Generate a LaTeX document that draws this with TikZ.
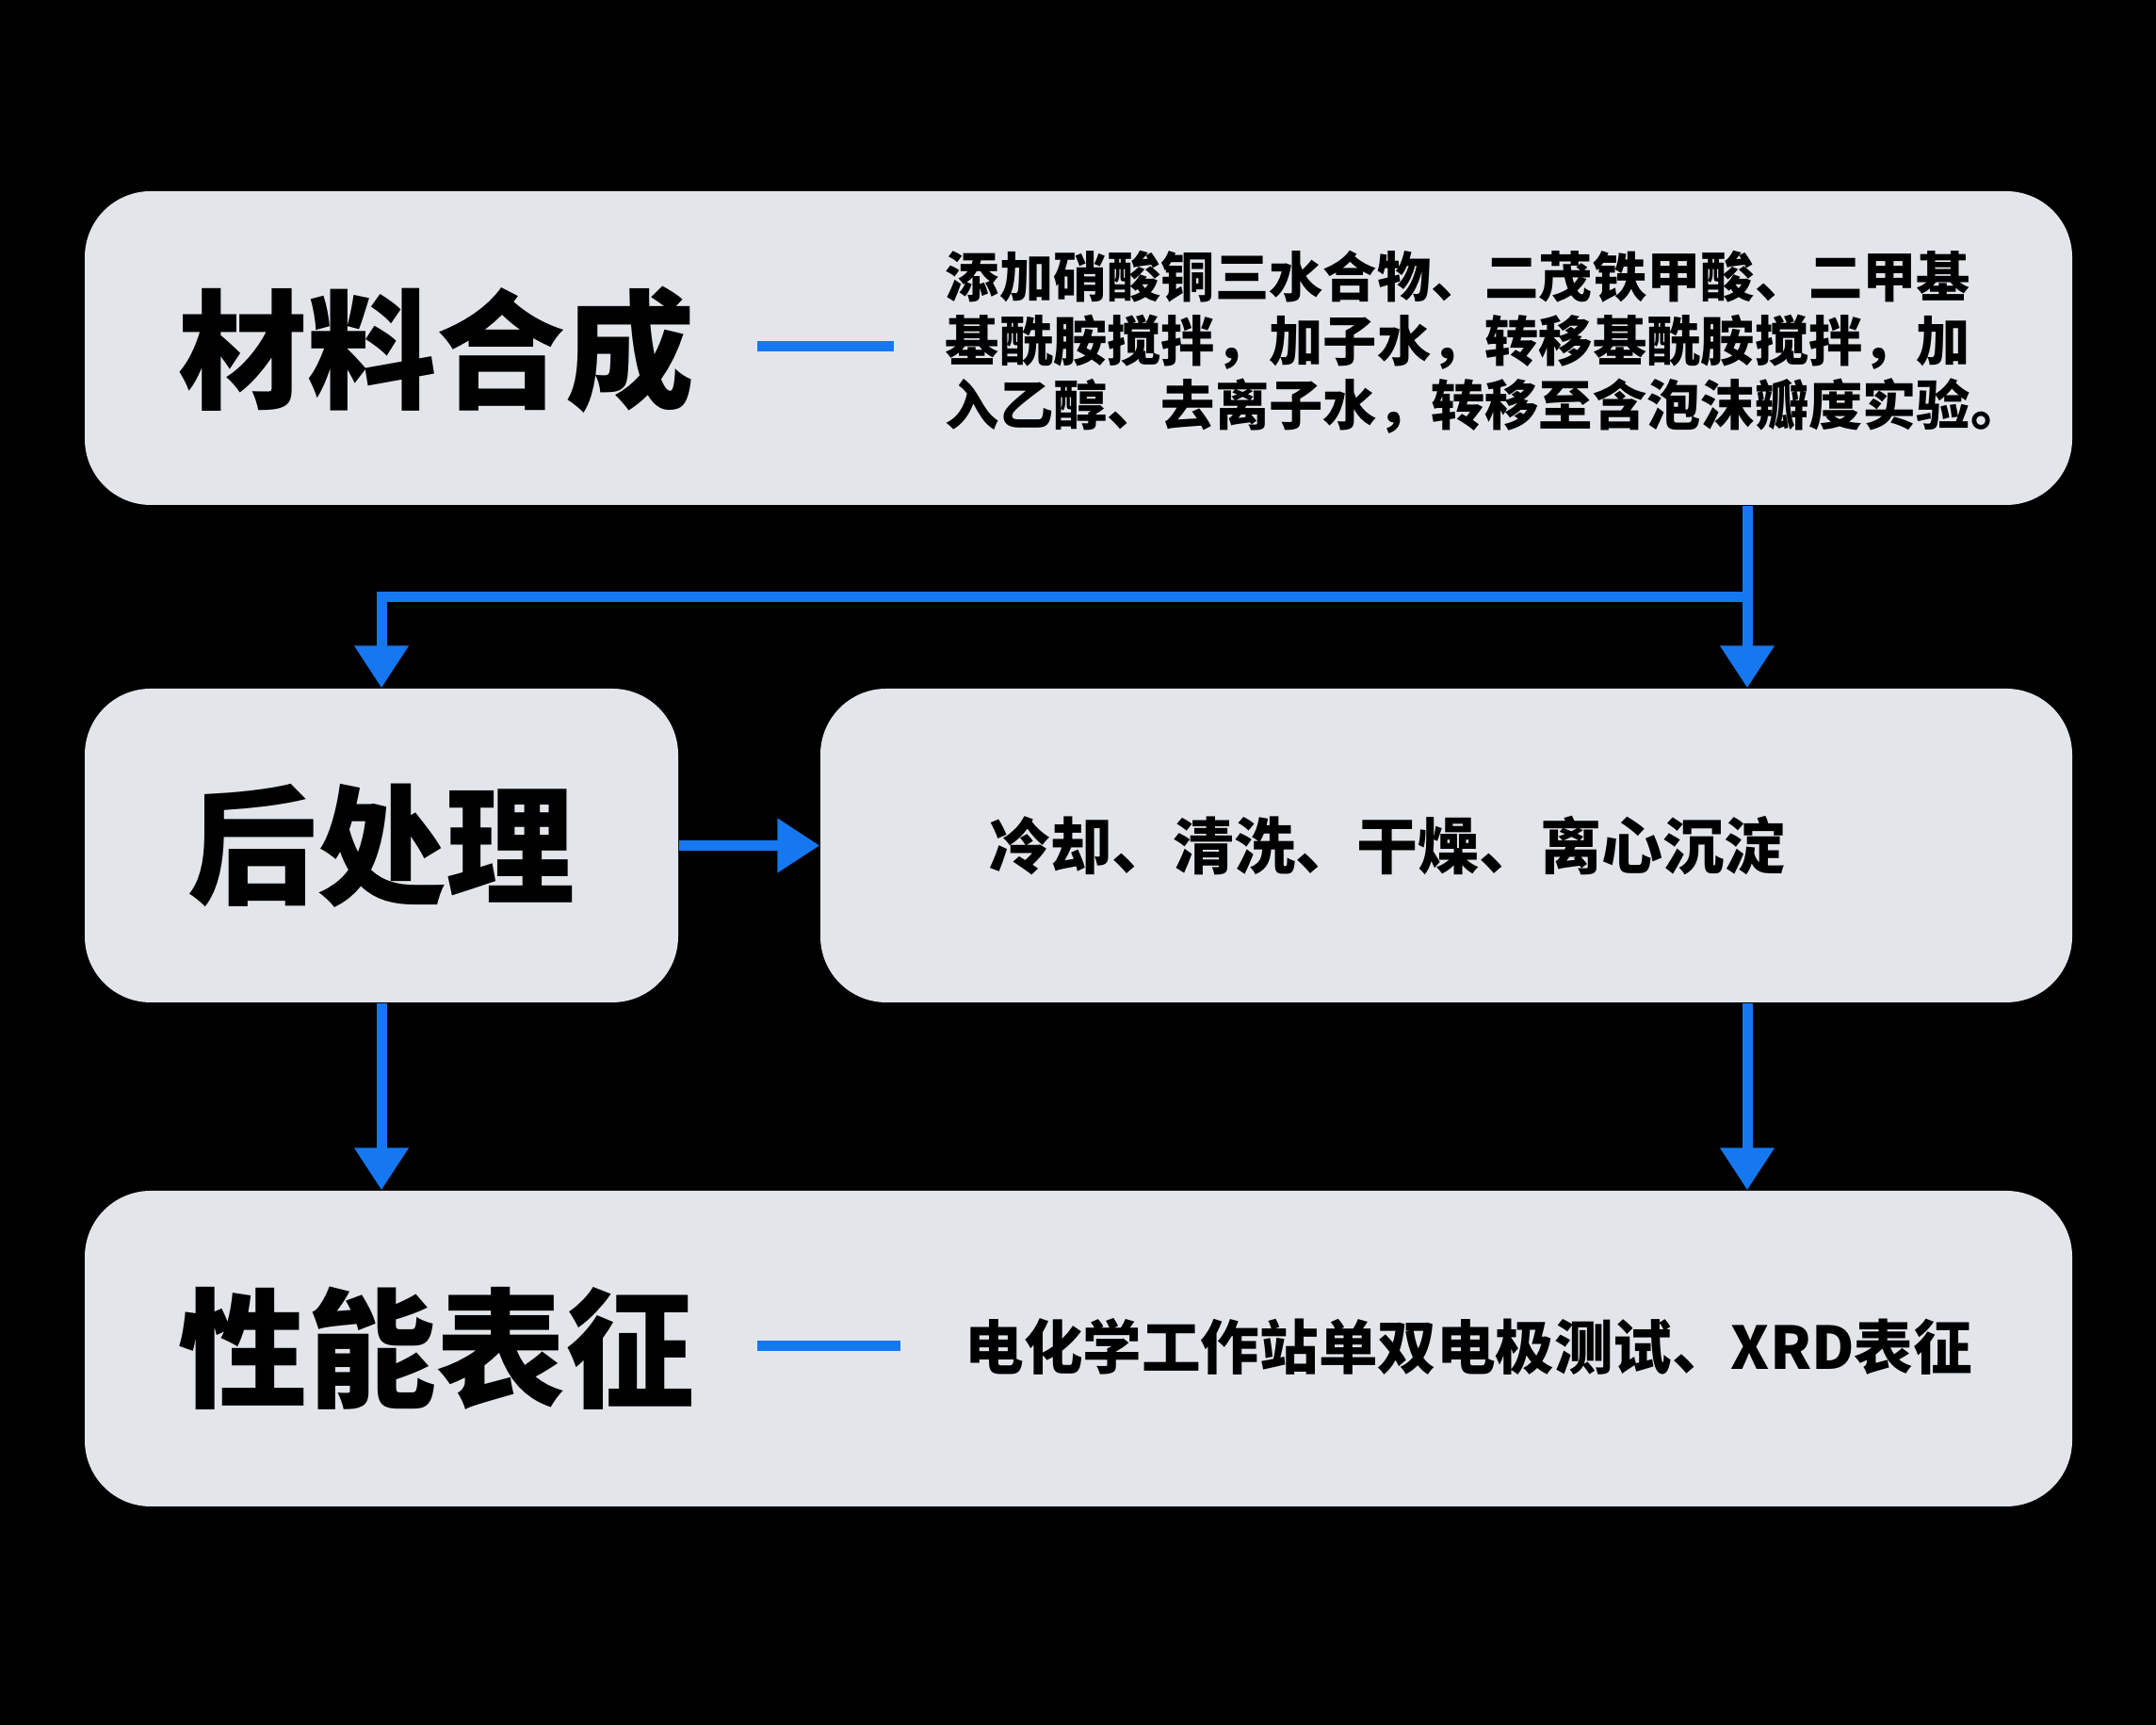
\documentclass[tikz,border=0pt]{standalone}
\usepackage{fontspec}
\setmainfont{Noto Sans CJK SC}
\usetikzlibrary{arrows.meta}

\definecolor{boxgray}{RGB}{226,230,235}
\definecolor{flowblue}{RGB}{22,120,240}

\tikzset{
  stagebox/.style={fill=boxgray, rounded corners=0.7cm, inner sep=0pt},
  stagetitle/.style={font=\fontsize{39pt}{44pt}\selectfont\bfseries, inner sep=0pt},
  stagetext/.style={font=\fontsize{16.3pt}{19.3pt}\selectfont\bfseries, inner sep=0pt, align=left},
  flow/.style={draw=flowblue, line width=0.11cm, -{Triangle[width=0.55cm,length=0.45cm]}},
  flowline/.style={draw=flowblue, line width=0.11cm}
}

\begin{document}
\begin{tikzpicture}
                    \useasboundingbox (0,0) rectangle (22.890000,18.310000);
                    \fill[black] (0,0) rectangle (22.890000,18.310000);

                    % Drawing box of the synthesis step
                    \node [stagebox, minimum width=21.100000cm, minimum height=3.330000cm] (syn) at (11.450000,14.615000) {};%
                    \node [stagetitle, anchor=west] (synT) at (1.890000,14.600000) {材料合成};%
                    \node [stagetext, anchor=west] (synD) at (10.030000,14.680000)
                      {添加硝酸铜三水合物、二茂铁甲酸、二甲基\\基酰胺搅拌，加子水，转移基酰胺搅拌，加\\入乙醇、去离子水，转移至含泡沫瓣度实验。};%

                    % Marking dash between title and text
                    \coordinate (synL) at (8.040000,14.630000);
                    \coordinate (synR) at (9.490000,14.630000);
                    \draw [flowline] (synL) -- (synR);%

                    % Drawing box of the after treatment
                    \node [stagebox, minimum width=6.300000cm, minimum height=3.330000cm] (post) at (4.050000,9.335000) {};%
                    \node [stagetitle] (postT) at (post.center) {后处理};%

                    % Drawing box of the treatment steps
                    \node [stagebox, minimum width=13.290000cm, minimum height=3.330000cm] (wash) at (15.355000,9.335000) {};%
                    \node [stagetext, font=\fontsize{18.5pt}{22pt}\selectfont\bfseries, anchor=west] (washD) at (10.500000,9.330000)
                      {冷却、清洗、干燥、离心沉淀};%

                    % Drawing box of the characterisation
                    \node [stagebox, minimum width=21.100000cm, minimum height=3.350000cm] (char) at (11.450000,3.995000) {};%
                    \node [stagetitle, anchor=west] (charT) at (1.890000,4.000000) {性能表征};%
                    \node [stagetext, font=\fontsize{17.8pt}{21pt}\selectfont\bfseries, anchor=west] (charD) at (10.240000,4.020000)
                      {电化学工作站单双电极测试、XRD表征};%

                    % Marking dash between title and text
                    \coordinate (charL) at (8.040000,4.020000);
                    \coordinate (charR) at (9.560000,4.020000);
                    \draw [flowline] (charL) -- (charR);%

                    % Drawing split below the synthesis box
                    \coordinate (split) at (18.550000,11.970000);
                    \draw [flow] (syn.south -| split) -- (wash.north -| split);%
                    \draw [flow] (split) -| (post.north);%

                    % Drawing arrow post -> wash
                    \draw [flow] (post.east) -- (wash.west);%

                    % Drawing arrows down to the characterisation box
                    \draw [flow] (post.south) -- (char.north -| post.south);%
                    \draw [flow] (wash.south -| split) -- (char.north -| split);%
\end{tikzpicture}
\end{document}
